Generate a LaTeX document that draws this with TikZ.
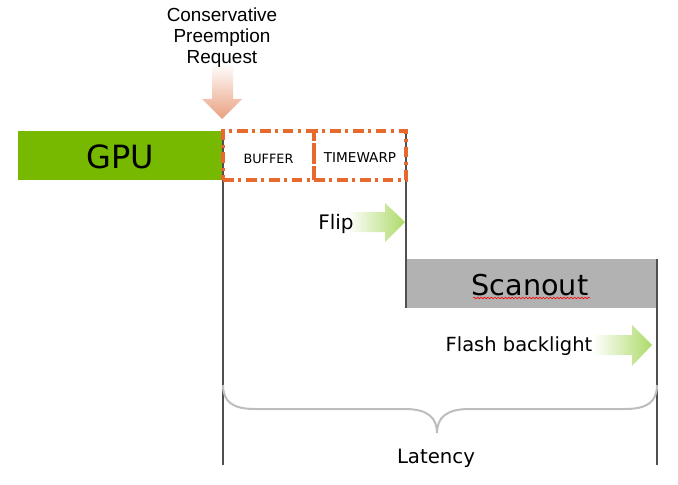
\documentclass[tikz,border=0pt]{standalone}
\usepackage{fontspec}
\setmainfont{DejaVu Sans}
\newfontfamily\arialf{Liberation Sans}
\usetikzlibrary{decorations.pathmorphing}
\definecolor{nvgreen}{HTML}{76B900}
\definecolor{dorange}{HTML}{E8692E}
\definecolor{scangray}{HTML}{B2B2B2}
\definecolor{vline}{HTML}{505050}
\definecolor{lgreen}{HTML}{ADDA68}
\definecolor{salmon}{HTML}{EAA080}
\definecolor{bracegray}{HTML}{BDBDBD}
\begin{document}
\begin{tikzpicture}[x=0.75pt,y=-0.75pt,
  blockbox/.style={anchor=north west, inner sep=0pt, outer sep=0pt},
  dashbox/.style={blockbox, draw=dorange, line width=2.4pt,
     dash pattern=on 8pt off 3.5pt on 2.2pt off 3.5pt},
  lbl/.style={inner sep=0pt, anchor=base},
  vrule/.style={draw=vline, line width=0.8pt},
  gradarrow/.style={draw=none}
]
\useasboundingbox (0,0) rectangle (678,485);

% blocks
\node[blockbox, fill=nvgreen, minimum width=205*0.75pt, minimum height=49*0.75pt] (gpu) at (18,131) {};
\node[blockbox, fill=scangray, minimum width=251*0.75pt, minimum height=49*0.75pt] (scan) at (406,259) {};

% vertical rules
\coordinate (l1t) at (223,131); \coordinate (l1b) at (223,465);
\coordinate (l2t) at (406,131); \coordinate (l2b) at (406,308);
\coordinate (l3t) at (657,259); \coordinate (l3b) at (657,465);
\draw[vrule] (l1t) -- (l1b);
\draw[vrule] (l2t) -- (l2b);
\draw[vrule] (l3t) -- (l3b);

\node[dashbox, minimum width=91*0.75pt, minimum height=49*0.75pt] (buf) at (223,131) {};
\node[dashbox, minimum width=92*0.75pt, minimum height=49*0.75pt] (tw) at (314,131) {};

% gradient arrows
\shade[gradarrow, top color=white, bottom color=salmon]
  (212,63) -- (233,63) -- (233,99) -- (242,99) -- (222,119) -- (202,99) -- (212,99) -- cycle;
\shade[gradarrow, left color=white, right color=lgreen]
  (347,212) -- (385,212) -- (385,203) -- (405,222) -- (385,242) -- (385,232) -- (347,232) -- cycle;
\shade[gradarrow, left color=white, right color=lgreen]
  (593,335) -- (632,335) -- (632,325) -- (652,345) -- (632,366) -- (632,355) -- (593,355) -- cycle;

% labels
\node[lbl, font=\fontsize{24}{28}\selectfont] (gput) at (120,168) {GPU};
\node[lbl, font=\fontsize{21.5}{26}\selectfont] (scant) at (530,295) {Scanout};
\draw[red, line width=0.45pt, decorate, decoration={snake, amplitude=0.6pt, segment length=2.6pt}] (473,298) -- (590,298);
\node[lbl, font=\fontsize{9.6}{12}\selectfont] (buft) at (268.5,163) {BUFFER};
\node[lbl, font=\fontsize{10.2}{12}\selectfont] (twt) at (360,162) {TIMEWARP};
\node[lbl, font=\fontsize{15}{18}\selectfont] (flip) at (336,229) {Flip};
\node[lbl, font=\fontsize{14.6}{18}\selectfont] (flash) at (519,351) {Flash backlight};
\node[lbl, font=\fontsize{14.8}{18}\selectfont] (lat) at (436,463) {Latency};
\node[inner sep=0pt, anchor=north, align=center, font=\arialf\fontsize{14.2}{15.6}\selectfont] (cpr) at (222,7.5) {Conservative\\Preemption\\Request};

% brace
\coordinate (bl) at (223,385); \coordinate (br) at (657,385); \coordinate (bt) at (437,433);
\draw[bracegray, line width=1.5pt]
  (bl) .. controls (223,402) and (233,409) .. (255,409) -- (405,409)
  .. controls (428,409) and (437,418) .. (bt)
  .. controls (437,418) and (446,409) .. (469,409) -- (625,409)
  .. controls (647,409) and (657,402) .. (br);
\end{tikzpicture}
\end{document}
